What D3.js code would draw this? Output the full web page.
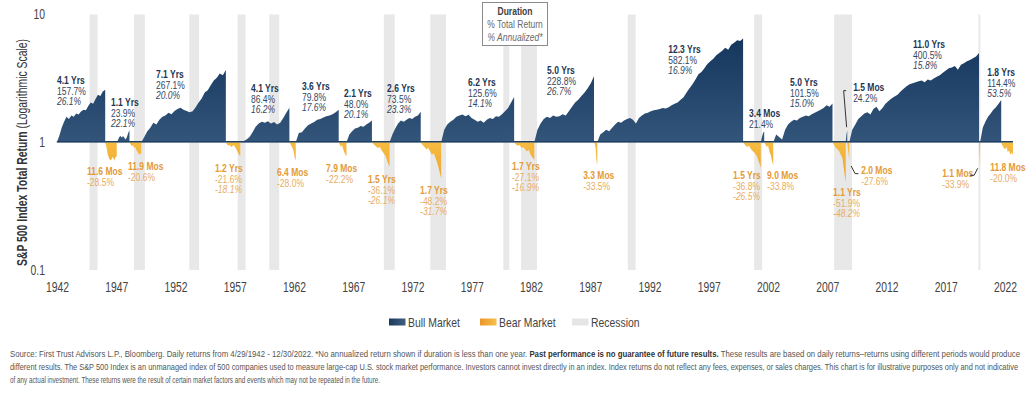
<!DOCTYPE html>
<html>
<head>
<meta charset="utf-8">
<script src="https://cdn.jsdelivr.net/npm/d3@7"></script>
<style>
  body { margin: 0; background: #fff; }
  svg text { font-family: "Liberation Sans", Arial, sans-serif; }
</style>
</head>
<body>
<div id="chart"></div>
<script>
// DATA
// start/end dates of each market phase (bull, bear, bull, bear ...)
var phaseDates = [
  "1942-04-29", "1946-05-29", "1947-05-19", "1948-06-15", "1949-06-13",
  "1956-08-02", "1957-10-22", "1961-12-12", "1962-06-26", "1966-02-09",
  "1966-10-07", "1968-11-29", "1970-05-26", "1973-01-11", "1974-10-03",
  "1980-11-28", "1982-08-12", "1987-08-25", "1987-12-04", "2000-03-24",
  "2001-09-21", "2002-01-04", "2002-10-09", "2007-10-09", "2008-11-20",
  "2009-01-06", "2009-03-09", "2020-02-19", "2020-03-23", "2022-01-03",
  "2022-12-30"
];

// growth of $1 inside each phase (evenly spaced in time)
var phaseValues = [
  [1.00, 1.12, 1.30, 1.45, 1.58, 1.52, 1.62, 1.58, 1.68, 1.65, 1.74, 1.80, 1.78, 1.92, 2.05, 2.00, 2.18, 2.35, 2.30, 2.50, 2.58],
  [1.00, 0.92, 0.80, 0.75, 0.72, 0.74, 0.77, 0.72, 0.76, 0.78],
  [1.00, 1.04, 1.10, 1.12, 1.09, 1.12, 1.08, 1.05, 1.10, 1.18, 1.24],
  [1.00, 0.96, 0.93, 0.95, 0.90, 0.92, 0.86, 0.84, 0.80, 0.82, 0.80],
  [1.00, 1.10, 1.22, 1.30, 1.42, 1.38, 1.50, 1.58, 1.62, 1.70, 1.66, 1.76, 1.82, 1.86, 1.80, 1.76, 1.72, 1.75, 1.88, 2.05, 2.20, 2.45, 2.55, 2.80, 3.05, 3.20, 3.45, 3.35, 3.67],
  [1.00, 0.96, 0.94, 0.95, 0.92, 0.93, 0.95, 0.92, 0.88, 0.84, 0.80, 0.78],
  [1.00, 1.02, 1.05, 1.10, 1.20, 1.32, 1.40, 1.45, 1.42, 1.46, 1.40, 1.44, 1.38, 1.42, 1.55, 1.70, 1.86],
  [1.00, 0.97, 0.93, 0.90, 0.85, 0.76, 0.72],
  [1.00, 1.18, 1.20, 1.28, 1.36, 1.40, 1.44, 1.50, 1.52, 1.56, 1.60, 1.62, 1.66, 1.72, 1.80],
  [1.00, 0.96, 0.92, 0.95, 0.88, 0.84, 0.80, 0.78],
  [1.00, 1.15, 1.22, 1.28, 1.30, 1.34, 1.32, 1.38, 1.42, 1.48],
  [1.00, 0.96, 0.93, 0.90, 0.92, 0.86, 0.82, 0.78, 0.70, 0.64],
  [1.00, 1.15, 1.28, 1.40, 1.48, 1.45, 1.50, 1.55, 1.52, 1.58, 1.62, 1.735],
  [1.00, 0.95, 0.92, 0.88, 0.90, 0.85, 0.80, 0.82, 0.75, 0.68, 0.60, 0.518],
  [1.00, 1.25, 1.38, 1.45, 1.50, 1.58, 1.62, 1.65, 1.60, 1.64, 1.55, 1.50, 1.45, 1.48, 1.42, 1.50, 1.55, 1.52, 1.60, 1.58, 1.66, 1.75, 1.85, 2.05, 2.256],
  [1.00, 0.96, 0.94, 0.95, 0.90, 0.92, 0.88, 0.85, 0.87, 0.80, 0.76, 0.729],
  [1.00, 1.25, 1.40, 1.52, 1.58, 1.55, 1.62, 1.58, 1.60, 1.66, 1.62, 1.75, 1.90, 2.05, 2.15, 2.30, 2.45, 2.65, 2.90, 3.288],
  [1.00, 0.97, 0.90, 0.72, 0.665],
  [1.00, 1.15, 1.20, 1.25, 1.22, 1.30, 1.38, 1.45, 1.42, 1.48, 1.52, 1.55, 1.50, 1.40, 1.55, 1.62, 1.68, 1.70, 1.75, 1.78, 1.80, 1.82, 1.85, 1.84, 1.88, 1.95, 2.00, 2.05, 2.15, 2.25, 2.45, 2.65, 2.85, 3.10, 3.40, 3.55, 3.80, 4.10, 4.30, 4.50, 4.80, 5.00, 5.20, 5.50, 5.30, 5.80, 6.00, 6.30, 6.20, 6.50],
  [1.00, 0.95, 0.92, 0.94, 0.88, 0.85, 0.82, 0.78, 0.70, 0.632],
  [1.00, 1.10, 1.18, 1.214],
  [1.00, 0.96, 0.92, 0.94, 0.85, 0.80, 0.72, 0.662],
  [1.00, 1.15, 1.10, 1.05, 1.25, 1.38, 1.45, 1.50, 1.48, 1.55, 1.58, 1.62, 1.60, 1.66, 1.70, 1.75, 1.80, 1.85, 1.95, 1.90, 2.015],
  [1.00, 0.95, 0.90, 0.88, 0.85, 0.80, 0.75, 0.60, 0.481],
  [1.00, 1.15, 1.242],
  [1.00, 0.85, 0.724],
  [1.00, 1.25, 1.38, 1.52, 1.60, 1.68, 1.72, 1.65, 1.82, 1.90, 1.75, 1.85, 2.00, 2.10, 2.20, 2.28, 2.35, 2.50, 2.62, 2.75, 2.85, 2.90, 2.95, 3.00, 3.05, 2.95, 3.10, 3.05, 3.15, 3.25, 3.35, 3.50, 3.65, 3.80, 3.85, 3.95, 3.70, 4.05, 4.15, 4.30, 4.40, 4.55, 4.70, 5.005],
  [1.00, 0.80, 0.661],
  [1.00, 1.30, 1.45, 1.58, 1.68, 1.80, 1.88, 2.00, 2.144],
  [1.00, 0.94, 0.90, 0.88, 0.92, 0.84, 0.86, 0.80, 0.83, 0.80]
];

var recessions = [
  ["1945-02-01", "1945-10-01"], ["1948-11-01", "1949-10-01"], ["1953-07-01", "1954-05-01"],
  ["1957-08-01", "1958-04-01"], ["1960-04-01", "1961-02-01"], ["1969-12-01", "1970-11-01"],
  ["1973-11-01", "1975-03-01"], ["1980-01-01", "1980-07-01"], ["1981-07-01", "1982-11-01"],
  ["1990-07-01", "1991-03-01"], ["2001-03-01", "2001-11-01"], ["2007-12-01", "2009-06-01"],
  ["2020-02-01", "2020-04-01"]
];

var bullDuration = ["4.1 Yrs", "1.1 Yrs", "7.1 Yrs", "4.1 Yrs", "3.6 Yrs", "2.1 Yrs", "2.6 Yrs", "6.2 Yrs", "5.0 Yrs", "12.3 Yrs", "3.4 Mos", "5.0 Yrs", "1.5 Mos", "11.0 Yrs", "1.8 Yrs"];
var bullTotal = ["157.7%", "23.9%", "267.1%", "86.4%", "79.8%", "48.0%", "73.5%", "125.6%", "228.8%", "582.1%", "21.4%", "101.5%", "24.2%", "400.5%", "114.4%"];
var bullAnnual = ["26.1%", "22.1%", "20.0%", "16.2%", "17.6%", "20.1%", "23.3%", "14.1%", "26.7%", "16.9%", "", "15.0%", "", "15.8%", "53.5%"];
var bearDuration = ["11.6 Mos", "11.9 Mos", "1.2 Yrs", "6.4 Mos", "7.9 Mos", "1.5 Yrs", "1.7 Yrs", "1.7 Yrs", "3.3 Mos", "1.5 Yrs", "9.0 Mos", "1.1 Yrs", "2.0 Mos", "1.1 Mos", "11.8 Mos"];
var bearTotal = ["-28.5%", "-20.6%", "-21.6%", "-28.0%", "-22.2%", "-36.1%", "-48.2%", "-27.1%", "-33.5%", "-36.8%", "-33.8%", "-51.9%", "-27.6%", "-33.9%", "-20.0%"];
var bearAnnual = ["", "", "-18.1%", "", "", "-26.1%", "-31.7%", "-16.9%", "", "-26.5%", "", "-48.2%", "", "", ""];

var yearTicks = d3.range(1942, 2023, 5);
var valueTicks = [0.1, 1, 10];

// label anchors in chart units: [decimal year, value]
var bullLabelAt = [
  [1942.34, 3.06], [1946.89, 2.06], [1950.69, 3.42], [1958.71, 2.65], [1963.01, 2.75],
  [1966.56, 2.42], [1970.19, 2.65], [1977.02, 2.96], [1983.69, 3.67], [1993.91, 5.36],
  [2000.73, 1.69], [2004.19, 2.96], [2009.51, 2.70], [2014.57, 5.87], [2020.82, 3.54]
];
var bearLabelAt = [
  [1944.87, 0.592], [1948.33, 0.648], [1955.67, 0.625], [1960.90, 0.582], [1965.04, 0.625],
  [1968.58, 0.513], [1972.97, 0.420], [1980.73, 0.648], [1986.73, 0.551], [1999.38, 0.551],
  [2002.25, 0.551], [2007.82, 0.405], [2010.19, 0.603], [2017.02, 0.571], [2021.07, 0.637]
];
var leaders = [
  [[2008.92, 2.535], [2008.71, 2.535], [2008.96, 1.311]],
  [[2009.34, 0.652], [2009.68, 0.568], [2009.96, 0.568]],
  [[2019.38, 0.551], [2019.72, 0.551], [2020.02, 0.625]]
];

var footerLines = [
  ["Source: First Trust Advisors L.P., Bloomberg. Daily returns from 4/29/1942 - 12/30/2022. *No annualized return shown if duration is less than one year. ",
   "Past performance is no guarantee of future results.",
   " These results are based on daily returns\u2013returns using different periods would produce"],
  ["different results. The S&P 500 Index is an unmanaged index of 500 companies used to measure large-cap U.S. stock market performance. Investors cannot invest directly in an index. Index returns do not reflect any fees, expenses, or sales charges. This chart is for illustrative purposes only and not indicative", "", ""],
  ["of any actual investment. These returns were the result of certain market factors and events which may not be repeated in the future.", "", ""]
];

// COLORS
var bullText = "#1d3553";
var bullSub = "#34475f";
var bearText = "#e39a38";
var bearSub = "#e8ad62";

// the reference uses a condensed face: squeeze glyphs horizontally
var squeeze = 0.74;

var width = 1033;
var height = 395;
var parseDate = d3.timeParse("%Y-%m-%d");

function decYear(v) {
  var yr = Math.floor(v);
  var a = new Date(yr, 0, 1).getTime();
  var b = new Date(yr + 1, 0, 1).getTime();
  return new Date(a + (b - a) * (v - yr));
}

var x = d3.scaleTime()
  .domain([new Date(1942, 0, 1), new Date(2023, 0, 1)])
  .range([53, 1013]);
var y = d3.scaleLog()
  .domain([0.1, 10])
  .range([270, 14.5]);

var svg = d3.select("#chart")
  .append("svg")
  .attr("width", width)
  .attr("height", height);

var defs = svg.append("defs");

var bullGrad = defs.append("linearGradient")
  .attr("id", "bullGrad")
  .attr("gradientUnits", "userSpaceOnUse")
  .attr("x1", 0).attr("y1", 30).attr("x2", 0).attr("y2", y(1));
bullGrad.append("stop").attr("offset", "0%").attr("stop-color", "#12345b");
bullGrad.append("stop").attr("offset", "100%").attr("stop-color", "#34557a");

var bearGrad = defs.append("linearGradient")
  .attr("id", "bearGrad")
  .attr("gradientUnits", "userSpaceOnUse")
  .attr("x1", 0).attr("y1", y(1)).attr("x2", 0).attr("y2", 215);
bearGrad.append("stop").attr("offset", "0%").attr("stop-color", "#f6bc40");
bearGrad.append("stop").attr("offset", "100%").attr("stop-color", "#e48f26");

var bullSwatch = defs.append("linearGradient").attr("id", "bullSwatch");
bullSwatch.append("stop").attr("offset", "0%").attr("stop-color", "#1a3a5e");
bullSwatch.append("stop").attr("offset", "100%").attr("stop-color", "#415f80");
var bearSwatch = defs.append("linearGradient").attr("id", "bearSwatch");
bearSwatch.append("stop").attr("offset", "0%").attr("stop-color", "#ea962d");
bearSwatch.append("stop").attr("offset", "100%").attr("stop-color", "#f7bf4c");

// recession bands
svg.append("g")
  .selectAll("rect")
  .data(recessions)
  .enter()
  .append("rect")
  .attr("x", function (d) { return x(parseDate(d[0])); })
  .attr("width", function (d) { return Math.max(1.5, x(parseDate(d[1])) - x(parseDate(d[0]))); })
  .attr("y", y(10))
  .attr("height", y(0.1) - y(10))
  .attr("fill", "#e8e8e8");

// phases -> point arrays
var phases = phaseValues.map(function (vals, i) {
  var t0 = parseDate(phaseDates[i]).getTime();
  var t1 = parseDate(phaseDates[i + 1]).getTime();
  return {
    bull: i % 2 === 0,
    points: vals.map(function (v, j) {
      return { date: new Date(t0 + (t1 - t0) * j / (vals.length - 1)), value: v };
    })
  };
});

var area = d3.area()
  .x(function (d) { return x(d.date); })
  .y0(y(1))
  .y1(function (d) { return y(d.value); });

svg.append("g")
  .selectAll("path")
  .data(phases)
  .enter()
  .append("path")
  .attr("d", function (d) { return area(d.points); })
  .attr("fill", function (d) { return d.bull ? "url(#bullGrad)" : "url(#bearGrad)"; });

// baseline at 1
svg.append("line")
  .attr("x1", x(parseDate(phaseDates[0])))
  .attr("x2", x(parseDate(phaseDates[phaseDates.length - 1])))
  .attr("y1", y(1) - 0.5)
  .attr("y2", y(1) - 0.5)
  .attr("stroke", "#1f3f63")
  .attr("stroke-width", 1.5);

// axes
var xAxis = svg.append("g")
  .attr("transform", "translate(0," + y(0.1) + ")")
  .call(d3.axisBottom(x)
    .tickValues(yearTicks.map(function (yr) { return new Date(yr, 4, 1); }))
    .tickFormat(d3.timeFormat("%Y"))
    .tickSize(0)
    .tickPadding(12));
xAxis.select(".domain").remove();
xAxis.selectAll("text")
  .attr("font-size", 14)
  .attr("fill", "#444")
  .attr("transform", "scale(" + squeeze + ",1)");

var yAxis = svg.append("g")
  .attr("transform", "translate(53,0)")
  .call(d3.axisLeft(y)
    .tickValues(valueTicks)
    .tickFormat(function (d) { return String(d); })
    .tickSize(0)
    .tickPadding(8));
yAxis.select(".domain").remove();
yAxis.selectAll("text")
  .attr("font-size", 14)
  .attr("fill", "#444")
  .attr("x", -8 / squeeze)
  .attr("transform", "scale(" + squeeze + ",1)");

// y axis title
var yTitle = svg.append("text")
  .attr("transform", "translate(27,152.5) rotate(-90)")
  .attr("text-anchor", "middle")
  .attr("font-size", 14)
  .attr("fill", "#333")
  .attr("textLength", 227)
  .attr("lengthAdjust", "spacingAndGlyphs");
yTitle.append("tspan").attr("font-weight", "bold").text("S&P 500 Index Total Return");
yTitle.append("tspan").text(" (Logarithmic Scale)");

// phase labels
function addLabel(pos, lines, colors) {
  var g = svg.append("g")
    .attr("transform", "translate(" + x(decYear(pos[0])) + "," + y(pos[1]) + ") scale(" + squeeze + ",1)");
  var t = g.append("text").attr("font-size", 11.5);
  lines.forEach(function (s, k) {
    if (!s) return;
    t.append("tspan")
      .attr("x", 0)
      .attr("dy", k === 0 ? "0.35em" : "10.5")
      .attr("font-weight", k === 0 ? "bold" : "normal")
      .attr("font-style", k === 2 ? "italic" : "normal")
      .attr("fill", k === 0 ? colors[0] : colors[1])
      .text(s);
  });
}
bullDuration.forEach(function (d, i) {
  addLabel(bullLabelAt[i], [d, bullTotal[i], bullAnnual[i]], [bullText, bullSub]);
});
bearDuration.forEach(function (d, i) {
  addLabel(bearLabelAt[i], [d, bearTotal[i], bearAnnual[i]], [bearText, bearSub]);
});

var leaderLine = d3.line()
  .x(function (d) { return x(decYear(d[0])); })
  .y(function (d) { return y(d[1]); });
svg.append("g")
  .selectAll("path")
  .data(leaders)
  .enter()
  .append("path")
  .attr("d", leaderLine)
  .attr("fill", "none")
  .attr("stroke", "#333")
  .attr("stroke-width", 1);

// key box
var key = svg.append("g").attr("transform", "translate(482.5,2.5)");
key.append("rect")
  .attr("width", 65).attr("height", 43)
  .attr("fill", "#fff")
  .attr("stroke", "#8a8a8a");
var keyText = key.append("g").attr("transform", "translate(32.5,0) scale(" + squeeze + ",1)");
keyText.append("text").attr("y", 12.5).attr("text-anchor", "middle")
  .attr("font-size", 11.5).attr("font-weight", "bold").attr("fill", "#404040").text("Duration");
keyText.append("text").attr("y", 25.5).attr("text-anchor", "middle")
  .attr("font-size", 11.5).attr("fill", "#6a6a6a").text("% Total Return");
keyText.append("text").attr("y", 38.5).attr("text-anchor", "middle")
  .attr("font-size", 11.5).attr("font-style", "italic").attr("fill", "#6a6a6a").text("% Annualized*");

// legend
var legendItems = [
  { label: "Bull Market", fill: "url(#bullSwatch)", x: 389 },
  { label: "Bear Market", fill: "url(#bearSwatch)", x: 480 },
  { label: "Recession", fill: "#e6e6e6", x: 572 }
];
var legend = svg.append("g").attr("transform", "translate(0,322)");
legendItems.forEach(function (d) {
  legend.append("rect")
    .attr("x", d.x).attr("y", -3.5)
    .attr("width", 16.5).attr("height", 7)
    .attr("fill", d.fill);
  legend.append("g")
    .attr("transform", "translate(" + (d.x + 19) + ",0) scale(0.8,1)")
    .append("text")
    .attr("dy", "0.35em")
    .attr("font-size", 13)
    .attr("fill", "#444")
    .text(d.label);
});

// footer
var footerLen = [1010, 1008, 370];
footerLines.forEach(function (parts, i) {
  var t = svg.append("text")
    .attr("x", 10)
    .attr("y", 357 + i * 12.8)
    .attr("font-size", 9)
    .attr("fill", "#555")
    .attr("textLength", footerLen[i])
    .attr("lengthAdjust", "spacingAndGlyphs");
  t.append("tspan").text(parts[0]);
  if (parts[1]) t.append("tspan").attr("font-weight", "bold").attr("fill", "#333").text(parts[1]);
  if (parts[2]) t.append("tspan").text(parts[2]);
});
</script>
</body>
</html>
